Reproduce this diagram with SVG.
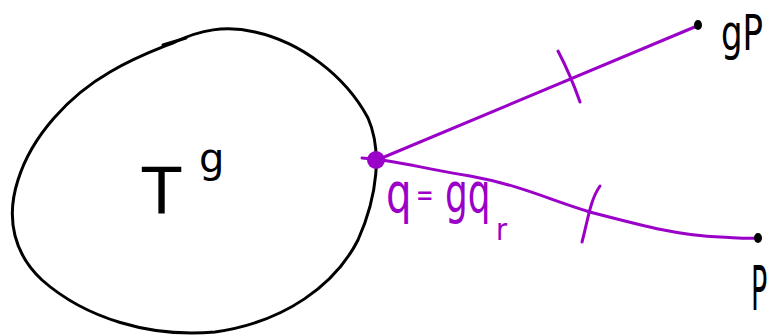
<svg xmlns="http://www.w3.org/2000/svg" width="769" height="336" viewBox="0 0 769 336">
<style>
.ink{fill:none;stroke:#000;stroke-width:3;stroke-linecap:round;stroke-linejoin:round}
.pur{fill:none;stroke:#9b00c8;stroke-width:3;stroke-linecap:round;stroke-linejoin:round}
.tb{font-family:"DejaVu Sans",sans-serif;fill:#000}
.tp{font-family:"DejaVu Sans",sans-serif;fill:#9b00c8}
</style>
<rect width="769" height="336" fill="#fff"/>
<g id="torus">
<path class="ink" d="M175,42 C200,30 225,25 255,32 C300,42 345,75 368,118 C382,150 378,195 358,240 C335,285 285,322 215,332 C150,338 85,318 42,280 C15,255 5,220 18,180 C32,135 70,95 110,72 C135,57 155,50 175,42 Z"/>
<path class="ink" d="M163,45 L186,38"/>
<text class="tb" x="142" y="214" font-size="64">T</text>
<text class="tb" x="199" y="172" font-size="40">g</text>
</g>
<g id="connectors">
<path class="pur" d="M377,160 L697,26"/>
<path class="pur" d="M362,158 C395,160 420,168 470,176 C520,185 550,200 590,212 C640,225 680,236 720,237 C740,238 750,239 757,238"/>
<path class="pur" d="M558,51 C568,70 574,85 580,102"/>
<path class="pur" d="M600,186 C590,200 588,220 582,242"/>
</g>
<g id="q">
<circle cx="376" cy="160" r="9" fill="#9b00c8"/>
<text class="tp" font-size="56" transform="translate(386,212) scale(0.72,1)">q</text>
<text class="tp" font-size="30" transform="translate(416,205) scale(0.7,1)">=</text>
<text class="tp" font-size="56" transform="translate(445,212) scale(0.64,1)">gq</text>
<text class="tp" font-size="30" transform="translate(496,240) scale(0.9,1)">r</text>
</g>
<g id="gP">
<ellipse cx="698" cy="25" rx="4" ry="5" fill="#000"/>
<text class="tb" font-size="50" transform="translate(721,50) scale(0.68,1)">gP</text>
</g>
<g id="P">
<ellipse cx="758" cy="238" rx="4" ry="5" fill="#000"/>
<text class="tb" font-size="60" transform="translate(751,310) scale(0.45,1)">P</text>
</g>
</svg>
